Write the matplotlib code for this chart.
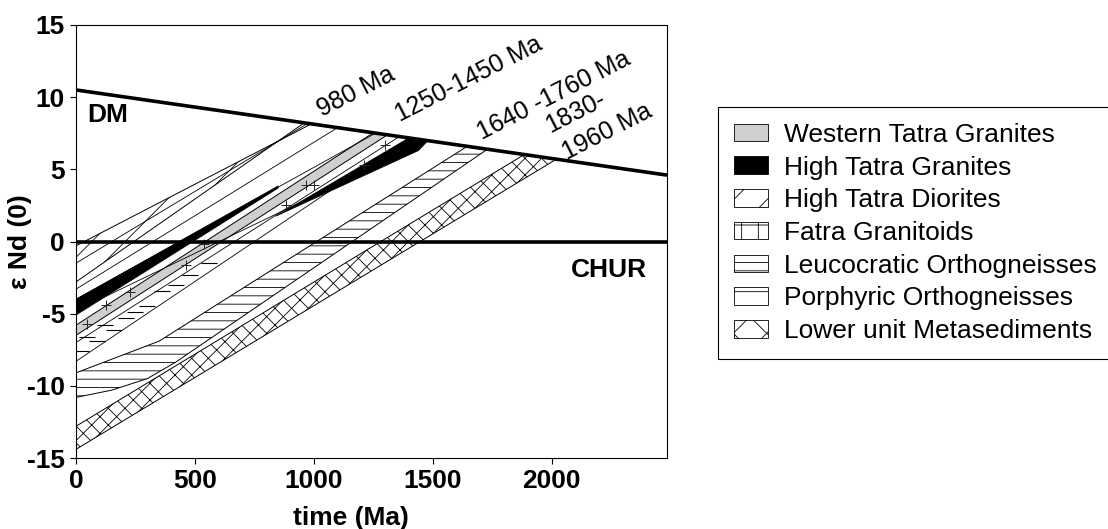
import numpy as np
import matplotlib
matplotlib.use("Agg")
import matplotlib.pyplot as plt
from matplotlib.patches import Polygon, Patch

plt.rcParams['font.family'] = ['Liberation Sans', 'DejaVu Sans']
plt.rcParams['hatch.linewidth'] = 0.6
plt.rcParams['axes.unicode_minus'] = False

# depleted mantle line (time Ma, eNd)
dm_t = [0, 2485]
dm_v = [10.5, 4.6]

# bands: eNd today and model age where each bounding line meets DM
diorite_e0 = [-0.3, -2.8]
diorite_tdm = [990, 960]
western_e0 = [-5.8, -6.5]
western_tdm = [1250, 1310]
metased_e0 = [-12.8, -14.4]
metased_tdm = [1885, 2020]

# leucocratic orthogneisses bend near the origin
leuco_top_t = [0, 350]
leuco_top_v = [-9.1, -6.9]
leuco_top_tdm = 1645
leuco_bot_t = [0, 150, 300, 420]
leuco_bot_v = [-10.8, -10.3, -9.5, -8.35]
leuco_bot_tdm = 1730

# high tatra granites, two black wedges
htg_a_t = [0, 850, 850, 0]
htg_a_v = [-4.0, 3.85, 3.7, -5.1]
htg_b_t = [840, 1400, 1480, 1440]
htg_b_v = [1.75, 7.18, 6.99, 6.3]

# single evolution lines drawn thin
extra_e0 = [-1.5, -3.3, -4.0, -4.8, -7.0, -8.3]
extra_tdm = [975, 1100, 1260, 1480, 1360, 1400]

# fatra granitoids (+) and porphyric orthogneisses (dashes)
fatra_t = [45, 128, 226, 463, 540, 881, 965, 1000, 1209, 1300]
fatra_v = [-5.7, -4.4, -3.5, -1.6, -0.2, 2.55, 3.9, 3.9, 5.3, 6.7]
porph_t = [20, 45, 90, 120, 160, 210, 250, 300, 360, 420, 480, 560]
porph_v = [-7.6, -6.6, -6.9, -5.8, -6.1, -5.3, -4.9, -4.5, -3.4, -3.0, -2.3, -1.5]

age_labels = ["980 Ma", "1250-1450 Ma", "1640 -1760 Ma", "1830-", "1960 Ma"]
age_t = [1034, 1362, 1707, 1993, 2065]
age_v = [8.63, 8.28, 7.03, 7.52, 5.65]

legend_labels = ["Western Tatra Granites", "High Tatra Granites", "High Tatra Diorites",
                 "Fatra Granitoids", "Leucocratic Orthogneisses", "Porphyric Orthogneisses",
                 "Lower unit Metasediments"]


def dm(t):
    return float(np.interp(t, dm_t, dm_v))


def band(top_t, top_v, top_tdm, bot_t, bot_v, bot_tdm):
    pts = list(zip(top_t, top_v))
    pts.append((top_tdm, dm(top_tdm)))
    pts.append((bot_tdm, dm(bot_tdm)))
    pts += list(zip(bot_t, bot_v))[::-1]
    return pts


fig = plt.figure(figsize=(11.08, 5.29), dpi=100)
ax = fig.add_axes([76 / 1108, 1 - 458 / 529, (667 - 76) / 1108, (458 - 25) / 529])

# diorites
ax.add_patch(Polygon(band([0], [diorite_e0[0]], diorite_tdm[0], [0], [diorite_e0[1]], diorite_tdm[1]),
                     facecolor='white', edgecolor='black', hatch='/', lw=0.7))
# western tatra granites
ax.add_patch(Polygon(band([0], [western_e0[0]], western_tdm[0], [0], [western_e0[1]], western_tdm[1]),
                     facecolor='#cfcfcf', edgecolor='black', lw=0.7))
# high tatra granites
ax.add_patch(Polygon(list(zip(htg_a_t, htg_a_v)), facecolor='black', edgecolor='black', lw=0.5))
ax.add_patch(Polygon(list(zip(htg_b_t, htg_b_v)), facecolor='black', edgecolor='black', lw=0.5))
# leucocratic orthogneisses
ax.add_patch(Polygon(band(leuco_top_t, leuco_top_v, leuco_top_tdm, leuco_bot_t, leuco_bot_v, leuco_bot_tdm),
                     facecolor='white', edgecolor='black', hatch='--', lw=0.7))
# lower unit metasediments
ax.add_patch(Polygon(band([0], [metased_e0[0]], metased_tdm[0], [0], [metased_e0[1]], metased_tdm[1]),
                     facecolor='white', edgecolor='black', hatch='xx', lw=0.7))

for e0, tdm in zip(extra_e0, extra_tdm):
    ax.plot([0, tdm], [e0, dm(tdm)], color='black', lw=0.6)

ax.plot(fatra_t, fatra_v, ls='none', marker='+', ms=7, mew=0.7, color='#222222')
ax.plot(porph_t, porph_v, ls='none', marker='_', ms=11, mew=0.8, color='black')

ax.plot(dm_t, dm_v, color='black', lw=2.6, solid_capstyle='butt')
ax.axhline(0, color='black', lw=2.6)

ax.text(46, 8.3, "DM", fontsize=19, fontweight='bold')
ax.text(2401, -2.44, "CHUR", fontsize=19, fontweight='bold', ha='right')
for lab, t, v in zip(age_labels, age_t, age_v):
    ax.text(t, v, lab, fontsize=18, rotation=27, rotation_mode='anchor', ha='left', va='baseline')

ax.set_xlim(0, 2485)
ax.set_ylim(-15, 15)
ax.set_xticks([0, 500, 1000, 1500, 2000])
ax.set_yticks([-15, -10, -5, 0, 5, 10, 15])
ax.tick_params(direction='out', length=4, width=0.8, labelsize=19, pad=4)
for lab in ax.get_xticklabels() + ax.get_yticklabels():
    lab.set_fontweight('bold')
for s in ax.spines.values():
    s.set_linewidth(0.8)
ax.set_xlabel("time (Ma)", fontsize=19, fontweight='bold')
ax.xaxis.set_label_coords(0.465, -0.112)
ax.set_ylabel("ε Nd (0)", fontsize=19, fontweight='bold')
ax.yaxis.set_label_coords(-0.074, 0.5)

handles = [
    Patch(facecolor='#cfcfcf', edgecolor='black', lw=0.6),
    Patch(facecolor='black', edgecolor='black', lw=0.6),
    Patch(facecolor='white', edgecolor='black', hatch='/', lw=0.6),
    Patch(facecolor='white', edgecolor='black', hatch='+', lw=0.6),
    Patch(facecolor='white', edgecolor='black', hatch='--', lw=0.6),
    Patch(facecolor='white', edgecolor='black', hatch='-', lw=0.6),
    Patch(facecolor='white', edgecolor='black', hatch='x', lw=0.6),
]
leg = fig.legend(handles, legend_labels, loc='upper left', bbox_to_anchor=(718 / 1108, 1 - 107 / 529),
                 fontsize=19, frameon=True, fancybox=False, edgecolor='black', framealpha=1,
                 borderpad=0.6, labelspacing=0.33, handlelength=1.3, handleheight=0.65,
                 handletextpad=0.6, borderaxespad=0)
leg.get_frame().set_linewidth(0.8)

fig.savefig("out.png", dpi=100)
